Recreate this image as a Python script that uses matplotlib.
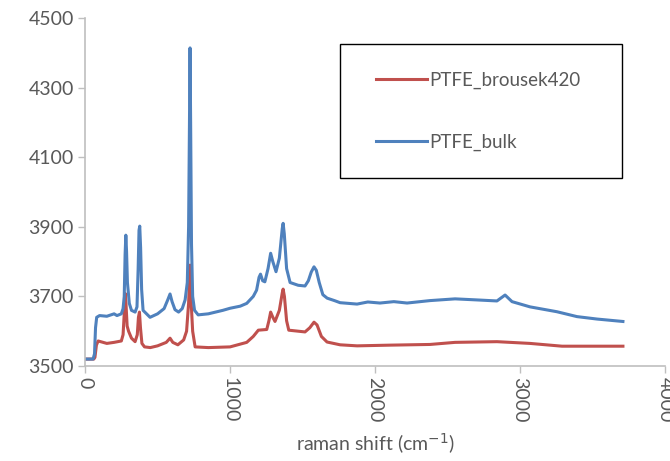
import numpy as np
import matplotlib.pyplot as plt
from matplotlib.patches import Rectangle

plt.rcParams['font.family'] = ['Lato', 'DejaVu Sans']

# raman shift (cm-1) / intensity
bulk_x = [0, 55, 65, 72, 80, 100, 150, 200, 220, 250, 262, 270, 276, 281, 286, 292,
          305, 320, 345, 358, 366, 372, 377, 383, 390, 400, 448, 500, 545, 570,
          586, 600, 620, 645, 670, 690, 705, 714, 720, 724, 728, 734, 742, 755,
          780, 850, 950, 1000, 1070, 1115, 1160, 1183, 1200, 1210, 1225, 1240,
          1262, 1280, 1295, 1317, 1340, 1360, 1366, 1374, 1390, 1414, 1470, 1517,
          1540, 1560, 1579, 1595, 1615, 1640, 1670, 1720, 1759, 1876, 1950, 2034,
          2130, 2221, 2379, 2552, 2700, 2841, 2897, 2945, 3069, 3255, 3393, 3531,
          3710]
bulk_y = [3520, 3520, 3535, 3610, 3640, 3645, 3643, 3650, 3645, 3650, 3665, 3700,
          3820, 3876, 3830, 3740, 3680, 3660, 3655, 3670, 3780, 3890, 3902, 3840,
          3720, 3660, 3640, 3650, 3665, 3690, 3707, 3685, 3662, 3655, 3665, 3690,
          3740, 3900, 4200, 4414, 4200, 3850, 3700, 3660, 3647, 3650, 3660, 3666,
          3672, 3680, 3700, 3718, 3755, 3764, 3745, 3742, 3780, 3824, 3800, 3771,
          3810, 3895, 3910, 3880, 3780, 3740, 3732, 3730, 3745, 3770, 3785, 3775,
          3740, 3705, 3695, 3688, 3682, 3678, 3684, 3681, 3685, 3681, 3688, 3693,
          3690, 3687, 3704, 3685, 3670, 3656, 3642, 3635, 3628]

brousek_x = [0, 60, 68, 78, 90, 150, 200, 250, 262, 270, 276, 282, 290, 300, 320, 345,
             360, 368, 375, 382, 392, 410, 450, 500, 560, 586, 605, 640, 680, 700,
             714, 724, 732, 742, 759, 850, 1000, 1115, 1160, 1195, 1253, 1268, 1280,
             1295, 1310, 1340, 1360, 1366, 1375, 1390, 1405, 1517, 1550, 1579, 1600,
             1630, 1669, 1759, 1876, 2100, 2379, 2552, 2841, 3069, 3290, 3710]
brousek_y = [3520, 3520, 3525, 3560, 3572, 3565, 3568, 3572, 3590, 3650, 3709, 3680,
             3615, 3600, 3580, 3570, 3590, 3640, 3655, 3610, 3565, 3555, 3553, 3558,
             3568, 3580, 3568, 3561, 3575, 3600, 3680, 3790, 3680, 3600, 3555, 3553,
             3555, 3568, 3585, 3603, 3605, 3630, 3655, 3640, 3628, 3660, 3710, 3721,
             3700, 3630, 3603, 3598, 3610, 3626, 3618, 3585, 3569, 3561, 3558, 3560,
             3562, 3568, 3570, 3565, 3557, 3557]

x_ticks = [0, 1000, 2000, 3000, 4000]
y_ticks = [3500, 3700, 3900, 4100, 4300, 4500]

red = '#C0504D'
blue = '#4F81BD'
grey = '#595959'
spine = '#BFBFBF'

fig = plt.figure(figsize=(6.7, 4.61), dpi=100)
ax = fig.add_axes([0.127, 0.206, 0.8655, 0.755])

ax.plot(brousek_x, brousek_y, color=red, lw=2.2, label='PTFE_brousek420')
ax.plot(bulk_x, bulk_y, color=blue, lw=2.2, label='PTFE_bulk')

ax.set_xlim(0, 4000)
ax.set_ylim(3500, 4500)
ax.set_xticks(x_ticks)
ax.set_yticks(y_ticks)
ax.set_xticklabels([str(v) for v in x_ticks], rotation=-90)
ax.tick_params(axis='both', colors=spine, labelcolor=grey, labelsize=14,
               length=5, width=1)
ax.tick_params(axis='y', pad=3)
ax.tick_params(axis='x', pad=3)

for s in ['top', 'right']:
    ax.spines[s].set_visible(False)
for s in ['left', 'bottom']:
    ax.spines[s].set_color(spine)
    ax.spines[s].set_linewidth(1.2)

ax.set_xlabel('raman shift (cm$^{-1}$)', fontsize=14, color=grey, labelpad=6)

# legend box drawn by hand
box = Rectangle((0.44, 0.54), 0.486, 0.385, transform=ax.transAxes,
                fill=False, edgecolor='black', lw=1.0, clip_on=False)
ax.add_patch(box)
leg = ax.legend(loc='center', bbox_to_anchor=(0.435, 0.54, 0.486, 0.385),
                frameon=False, fontsize=13.5, handlelength=2.7,
                handletextpad=0.15, labelspacing=2.4)
for t in leg.get_texts():
    t.set_color(grey)

fig.savefig('out.png', dpi=100)
